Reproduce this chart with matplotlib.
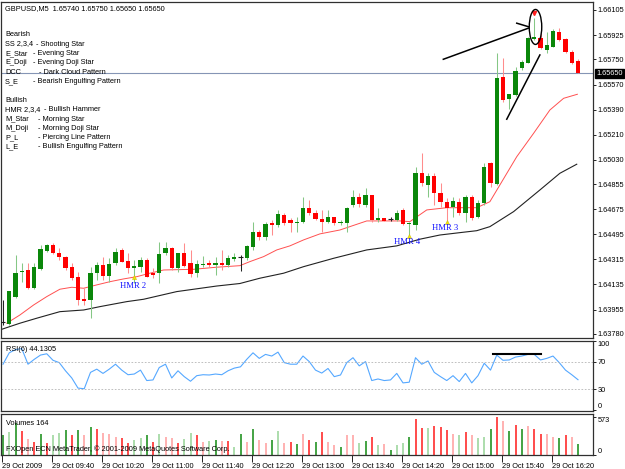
import matplotlib
matplotlib.use('Agg')
import matplotlib.pyplot as plt
import matplotlib.transforms as mtransforms
from matplotlib.patches import Ellipse
import numpy as np

# GBPUSD M5, 29 Oct 2009, 09:00 .. 16:40 (one entry per bar)
opens = [1.63866, 1.63852, 1.64046, 1.64225, 1.64239, 1.64110, 1.64246, 1.64376, 1.64419, 1.64361,
         1.64333, 1.64261, 1.64189, 1.64031, 1.64024, 1.64218, 1.64275, 1.64196, 1.64290, 1.64383,
         1.64304, 1.64254, 1.64261, 1.64311, 1.64218, 1.64218, 1.64361, 1.64397, 1.64254, 1.64361,
         1.64290, 1.64218, 1.64275, 1.64290, 1.64275, 1.64290, 1.64275, 1.64318, 1.64333, 1.64325,
         1.64404, 1.64512, 1.64476, 1.64577, 1.64562, 1.64634, 1.64598, 1.64577, 1.64584, 1.64684,
         1.64648, 1.64605, 1.64584, 1.64620, 1.64577, 1.64577, 1.64706, 1.64763, 1.64706, 1.64777,
         1.64598, 1.64612, 1.64605, 1.64598, 1.64670, 1.64569, 1.64562, 1.64935, 1.64849, 1.64914,
         1.64792, 1.64727, 1.64691, 1.64727, 1.64648, 1.64763, 1.64620, 1.64720, 1.65007, 1.64856,
         1.65624, 1.65466, 1.65495, 1.65689, 1.65725, 1.65897, 1.65904, 1.65818, 1.65840, 1.65947,
         1.65897, 1.65804, 1.65740]
highs = [1.64024, 1.64089, 1.64347, 1.64290, 1.64290, 1.64290, 1.64419, 1.64426, 1.64433, 1.64397,
         1.64340, 1.64290, 1.64225, 1.64110, 1.64261, 1.64297, 1.64333, 1.64325, 1.64397, 1.64397,
         1.64361, 1.64311, 1.64333, 1.64325, 1.64254, 1.64440, 1.64440, 1.64404, 1.64361, 1.64433,
         1.64383, 1.64311, 1.64340, 1.64311, 1.64333, 1.64383, 1.64347, 1.64361, 1.64347, 1.64419,
         1.64584, 1.64526, 1.64584, 1.64598, 1.64670, 1.64648, 1.64612, 1.64620, 1.64763, 1.64742,
         1.64670, 1.64670, 1.64670, 1.64620, 1.64598, 1.64691, 1.64813, 1.64792, 1.64828, 1.64777,
         1.64684, 1.64612, 1.64620, 1.64670, 1.64684, 1.64584, 1.64978, 1.65079, 1.64935, 1.64935,
         1.64864, 1.64756, 1.64763, 1.64756, 1.64777, 1.64777, 1.64742, 1.65007, 1.65014, 1.65796,
         1.65761, 1.65502, 1.65696, 1.65746, 1.65911, 1.66048, 1.65940, 1.65947, 1.65969, 1.65976,
         1.65904, 1.65818, 1.65750]
lows = [1.63845, 1.63845, 1.64038, 1.64153, 1.64103, 1.64103, 1.64239, 1.64368, 1.64354, 1.64311,
        1.64239, 1.64168, 1.63988, 1.63988, 1.63895, 1.64168, 1.64168, 1.64153, 1.64275, 1.64297,
        1.64218, 1.64146, 1.64225, 1.64189, 1.64182, 1.64146, 1.64347, 1.64239, 1.64225, 1.64261,
        1.64189, 1.64189, 1.64261, 1.64261, 1.64203, 1.64239, 1.64261, 1.64304, 1.64232, 1.64311,
        1.64383, 1.64455, 1.64455, 1.64490, 1.64548, 1.64562, 1.64512, 1.64512, 1.64577, 1.64634,
        1.64598, 1.64512, 1.64577, 1.64562, 1.64562, 1.64512, 1.64691, 1.64691, 1.64691, 1.64584,
        1.64584, 1.64591, 1.64591, 1.64591, 1.64562, 1.64476, 1.64526, 1.64842, 1.64763, 1.64706,
        1.64691, 1.64584, 1.64620, 1.64634, 1.64584, 1.64598, 1.64612, 1.64706, 1.64835, 1.64849,
        1.65445, 1.65395, 1.65488, 1.65674, 1.65725, 1.65890, 1.65825, 1.65796, 1.65840, 1.65883,
        1.65796, 1.65718, 1.65650]
closes = [1.63866, 1.64089, 1.64218, 1.64232, 1.64110, 1.64261, 1.64390, 1.64419, 1.64361, 1.64333,
          1.64254, 1.64182, 1.64024, 1.64017, 1.64218, 1.64275, 1.64196, 1.64282, 1.64368, 1.64297,
          1.64254, 1.64268, 1.64311, 1.64189, 1.64203, 1.64354, 1.64397, 1.64254, 1.64361, 1.64268,
          1.64211, 1.64282, 1.64282, 1.64275, 1.64290, 1.64275, 1.64325, 1.64333, 1.64333, 1.64412,
          1.64512, 1.64476, 1.64569, 1.64562, 1.64641, 1.64577, 1.64577, 1.64584, 1.64684, 1.64648,
          1.64605, 1.64584, 1.64620, 1.64577, 1.64584, 1.64684, 1.64763, 1.64713, 1.64777, 1.64598,
          1.64612, 1.64591, 1.64605, 1.64648, 1.64569, 1.64577, 1.64935, 1.64864, 1.64914, 1.64792,
          1.64727, 1.64684, 1.64734, 1.64648, 1.64763, 1.64612, 1.64720, 1.64978, 1.64864, 1.65617,
          1.65459, 1.65502, 1.65667, 1.65732, 1.65904, 1.65908, 1.65832, 1.65854, 1.65954, 1.65890,
          1.65804, 1.65725, 1.65650]

# moving averages (bar position, price)
ma_fast_x = [0.6, 2.7, 4.9, 7.0, 9.1, 11.0, 12.9, 15.0, 17.1, 19.3, 21.4, 23.5, 25.7, 30.5, 34.2,
             37.9, 39.5, 41.7, 43.8, 45.9, 48.1, 50.7, 53.9, 58.2, 63.5, 65.1, 67.8, 71.0, 75.8,
             77.9, 79.5, 82.2, 84.9, 87.5, 89.7, 91.9]
ma_fast_y = [1.63857, 1.63916, 1.63988, 1.64048, 1.64101, 1.64115, 1.64108, 1.64132, 1.64155, 1.64175,
             1.64191, 1.64216, 1.64239, 1.64244, 1.64259, 1.64270, 1.64299, 1.64335, 1.64383, 1.64412,
             1.64455, 1.64498, 1.64526, 1.64591, 1.64591, 1.64586, 1.64670, 1.64686, 1.64686, 1.64729,
             1.64849, 1.65052, 1.65220, 1.65387, 1.65471, 1.65500]
ma_slow_x = [-0.5, 2.7, 5.4, 9.1, 12.9, 15.5, 19.8, 22.5, 27.8, 34.2, 37.9, 41.1, 44.9, 48.1, 52.9,
             58.2, 63.0, 66.7, 69.9, 73.1, 75.8, 77.9, 81.7, 85.9, 89.1, 91.8]
ma_slow_y = [1.63809, 1.63857, 1.63893, 1.63940, 1.63952, 1.63976, 1.64012, 1.64029, 1.64084, 1.64124,
             1.64142, 1.64180, 1.64216, 1.64263, 1.64323, 1.64383, 1.64412, 1.64460, 1.64490, 1.64507,
             1.64521, 1.64550, 1.64658, 1.64813, 1.64933, 1.64998]

rsi = [66.7, 83.3, 88.0, 89.5, 66.7, 73.8, 80.0, 81.9, 72.4, 69.0,
       57.1, 46.7, 31.9, 31.0, 54.8, 59.5, 53.3, 59.5, 66.7, 58.1,
       51.4, 52.4, 58.1, 42.9, 43.8, 61.9, 66.7, 46.7, 57.1, 48.6,
       41.9, 50.0, 51.4, 51.0, 52.4, 51.4, 57.1, 61.0, 62.9, 73.8,
       83.3, 75.2, 81.0, 78.6, 84.3, 69.0, 66.7, 66.7, 78.6, 70.5,
       58.1, 53.8, 60.5, 48.6, 51.0, 69.0, 76.2, 64.3, 70.5, 42.9,
       45.2, 42.9, 43.8, 53.3, 39.5, 40.5, 76.2, 66.7, 71.4, 54.8,
       48.6, 42.9, 50.0, 41.4, 53.3, 39.5, 50.0, 68.1, 58.1, 80.0,
       72.4, 72.9, 77.1, 78.6, 81.0, 81.0, 72.9, 75.2, 78.6, 69.0,
       58.1, 51.4, 44.13]

volumes = [294, 343, 480, 358, 245, 196, 318, 181, 294, 328,
           377, 304, 377, 304, 426, 382, 333, 318, 270, 255,
           186, 230, 260, 294, 196, 318, 270, 260, 181, 245,
           328, 294, 196, 211, 220, 211, 211, 122, 318, 200,
           392, 230, 181, 220, 353, 181, 196, 162, 319, 229,
           200, 343, 200, 143, 119, 300, 300, 186, 205, 262,
           143, 157, 81, 143, 181, 262, 535, 406, 406, 439,
           415, 368, 319, 296, 343, 296, 253, 262, 396, 573,
           501, 358, 453, 382, 439, 396, 319, 319, 262, 253,
           296, 262, 164]
# G dark green, g light green, R red, r light red
vol_kind = list('GgGRrRGRggGRGrGRrrrRRggGRgrrRggRrgGrRgGrGrrGgrRG'
                'rRGRrrGrrgGRgrGggGRRgRRRrgRrggGRrGRGrRRrrGRr')

time_ticks = [0, 8, 16, 24, 32, 40, 48, 56, 64, 72, 80, 88]
time_labels = ['29 Oct 2009', '29 Oct 09:40', '29 Oct 10:20', '29 Oct 11:00', '29 Oct 11:40',
               '29 Oct 12:20', '29 Oct 13:00', '29 Oct 13:40', '29 Oct 14:20', '29 Oct 15:00',
               '29 Oct 15:40', '29 Oct 16:20']
price_ticks = [1.66105, 1.65925, 1.65750, 1.65570, 1.65390, 1.65210, 1.65030, 1.64855,
               1.64675, 1.64495, 1.64315, 1.64135, 1.63955, 1.63780]
last_price = 1.65650

# pattern marks: (bar, price) for the marker, (bar, price) for the label
hmr_bars = [21, 65, 71]
hmr_marks = [1.64189, 1.64480, 1.64586]
hmr_text = ['HMR 2', 'HMR 4', 'HMR 3']
hmr_text_x = [20.8, 64.6, 70.7]
hmr_text_y = [1.64127, 1.64442, 1.64539]

legend_rows = [('Bearish', '', 34.3, 0), ('SS 2,3,4', '- Shooting Star', 44, 35.7),
               ('E_Star', '- Evening Star', 53.3, 32.7), ('E_Doji', '- Evening Doji Star', 62.7, 32.7),
               ('DCC', '- Dark Cloud Pattern', 72, 39.3), ('S_E', '- Bearish Engulfing Pattern', 81.7, 32.7),
               ('Bullish', '', 100, 0), ('HMR 2,3,4', '- Bullish Hammer', 109.3, 44),
               ('M_Star', '- Morning Star', 119, 38.3), ('M_Doji', '- Morning Doji Star', 128.3, 38.3),
               ('P_L', '- Piercing Line Pattern', 137.7, 38.3),
               ('L_E', '- Bullish Engulfing Pattern', 147, 38.3)]

W, H = 625, 469
plt.rcParams['font.family'] = ['Liberation Sans', 'DejaVu Sans']
plt.rcParams['font.size'] = 5.3

fig = plt.figure(figsize=(W / 100, H / 100), dpi=100)


def box(x0, y0, x1, y1):
    return [x0 / W, 1 - y1 / H, (x1 - x0) / W, (y1 - y0) / H]


ax = fig.add_axes(box(1, 2, 593, 338))
ax_r = fig.add_axes(box(1, 341, 593, 410.7))
ax_v = fig.add_axes(box(1, 414, 593, 455))

xs = np.arange(len(closes))
o = np.array(opens)
c = np.array(closes)
hi = np.array(highs)
lo = np.array(lows)
up = c > o
dn = c < o
flat = c == o

GREEN, LGREEN = '#0a870a', '#85c785'
RED, LRED = '#ff0000', '#ff8c8c'

# wicks
ax.vlines(xs[up], lo[up], hi[up], color=LGREEN, lw=0.75, zorder=2)
ax.vlines(xs[dn], lo[dn], hi[dn], color=LRED, lw=0.75, zorder=2)
ax.vlines(xs[flat], lo[flat], hi[flat], color='#222222', lw=0.75, zorder=2)
# bodies
bw = 0.66
body_h = np.maximum(np.abs(c - o), 0.00007)
ax.bar(xs[up], body_h[up], bottom=o[up], width=bw, color=GREEN, lw=0, zorder=3)
ax.bar(xs[dn], body_h[dn], bottom=c[dn], width=bw, color=RED, lw=0, zorder=3)
ax.hlines(c[flat], xs[flat] - bw / 2, xs[flat] + bw / 2, color='#222222', lw=0.8, zorder=3)

ax.plot(ma_fast_x, ma_fast_y, color='#ff5050', lw=0.7, zorder=1)
ax.plot(ma_slow_x, ma_slow_y, color='#222222', lw=0.8, zorder=1)
ax.axhline(last_price, color='#8595b5', lw=0.8, zorder=0)

# pattern markers
ax.plot(hmr_bars, hmr_marks, '^', color='#f2e600', ms=3, mec='#c8b400', mew=0.3, zorder=4)
for tx, ty, t in zip(hmr_text_x, hmr_text_y, hmr_text):
    ax.text(tx, ty, t, color='#1010ff', fontsize=6.2, family=['Liberation Serif'],
            ha='center', va='center', zorder=5)
ax.plot([85], [1.66085], 'v', color='#ff2020', ms=3, zorder=5)

# hand drawn notes
ax.plot([70.45, 84.05], [1.65751, 1.65974], color='black', lw=1.1, zorder=6)
ax.plot([82.2, 84.05], [1.66010, 1.65985], color='black', lw=1.1, zorder=6)
ax.plot([80.6, 85.9], [1.65321, 1.65782], color='black', lw=1.1, zorder=6)
ax.add_patch(Ellipse((85.2, 1.65983), 2.0, 0.00251, fill=False, ec='black', lw=1.0, zorder=6))

xlim = (-0.32, 94.4)
ax.set_xlim(*xlim)
ax.set_ylim(1.63751, 1.66162)
ax.set_yticks(price_ticks)
ax.set_yticklabels(['%.5f' % p for p in price_ticks])
ax.set_xticks([])

trans = mtransforms.blended_transform_factory(ax.transAxes, ax.transData)
ax.text(1.006, last_price, '%.5f' % last_price, transform=trans, color='white', ha='left',
        va='center', bbox=dict(facecolor='black', edgecolor='black', pad=0.9), zorder=7)

# RSI
ax_r.plot(xs, rsi, color='#55a8ff', lw=0.8)
ax_r.axhline(70, color='#b4b4b4', lw=0.6, dashes=(2, 2))
ax_r.axhline(30, color='#b4b4b4', lw=0.6, dashes=(2, 2))
ax_r.plot([78.4, 86.0], [82, 82], color='black', lw=1.5)
ax_r.set_xlim(*xlim)
ax_r.set_ylim(-1, 100.5)
ax_r.set_yticks([100, 70, 30, 0])
ax_r.set_yticklabels(['100', '70', '30', '0'])
ax_r.set_xticks([])
ax_r.text(0.008, 0.93, 'RSI(6) 44.1305', transform=ax_r.transAxes, ha='left', va='top')

# Volumes
vcol = {'G': '#118a11', 'g': '#96d396', 'R': '#ff1a1a', 'r': '#ff9c9c'}
ax_v.vlines(xs, 0, volumes, colors=[vcol[k] for k in vol_kind], lw=1.1)
ax_v.set_xlim(*xlim)
ax_v.set_ylim(0, 613)
ax_v.set_yticks([573, 0])
ax_v.set_yticklabels(['573', '0'])
ax_v.text(0.008, 0.85, 'Volumes 164', transform=ax_v.transAxes, ha='left', va='top')
ax_v.text(0.008, 0.15, 'FXOpen ECN MetaTrader, \u00a9 2001-2009 MetaQuotes Software Corp.',
          transform=ax_v.transAxes, ha='left', va='center')
ax_v.set_xticks([t - 0.2 for t in time_ticks])
ax_v.set_xticklabels(time_labels, ha='left')

for a in (ax, ax_r, ax_v):
    a.set_facecolor('white')
    for s in a.spines.values():
        s.set_color('#303030')
        s.set_linewidth(0.9)
    a.tick_params(axis='y', left=False, labelleft=False, right=True, labelright=True,
                  direction='out', length=2.2, width=0.6, pad=1.2, labelsize=5.3)

for lab in ax_r.get_yticklabels():
    if lab.get_text() == '100':
        lab.set_va('top')
    elif lab.get_text() == '0':
        lab.set_va('bottom')
for lab in ax_v.get_yticklabels():
    lab.set_va('top' if lab.get_text() == '573' else 'bottom')

ax_v.tick_params(axis='x', direction='out', length=5, width=0.6, pad=1.0, labelsize=5.3)
for lab in ax_v.get_xticklabels():
    lab.set_horizontalalignment('left')

# header and pattern legend
fig.text(5 / W, 1 - 9 / H, 'GBPUSD,M5  1.65740 1.65750 1.65650 1.65650', ha='left', va='center')
for code, desc, y, dx in legend_rows:
    fig.text(5 / W, 1 - y / H, code, ha='left', va='center')
    if desc:
        fig.text(dx / W, 1 - y / H, desc, ha='left', va='center')

fig.savefig('out.png', dpi=100)
